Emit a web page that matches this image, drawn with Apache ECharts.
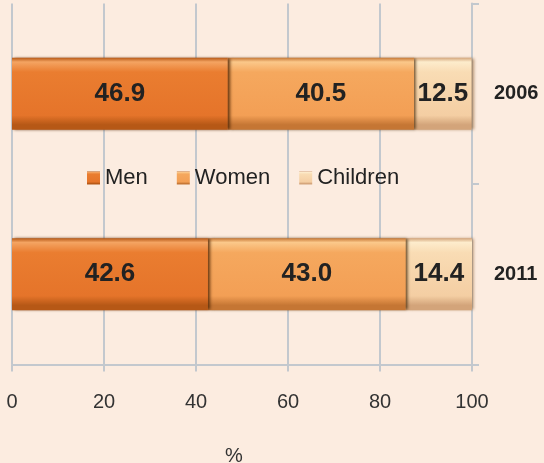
<!DOCTYPE html>
<html>
<head>
<meta charset="utf-8">
<script src="https://cdn.jsdelivr.net/npm/echarts@6/dist/echarts.min.js"></script>
<style>
  html, body { margin: 0; padding: 0; background: #fcece0; }
  #chart { width: 544px; height: 463px; }
</style>
</head>
<body>
<div id="chart"></div>
<script>
// Population composition by year (%)
const years = ['2006', '2011'];
const men = [46.9, 42.6];
const women = [40.5, 43.0];
const children = [12.5, 14.4];
const seriesNames = ['Men', 'Women', 'Children'];
const xTicks = { min: 0, max: 100, step: 20 };
const axisUnit = '%';

const FONT = '"Liberation Sans", Arial, sans-serif';
const GRID_COLOR = '#c3c8ce';

// Vertical bevel-like gradient for each segment
function bevel(top, light, mid, bottom) {
  return {
    type: 'linear', x: 0, y: 0, x2: 0, y2: 1,
    colorStops: [
      { offset: 0, color: bottom },
      { offset: 0.06, color: top },
      { offset: 0.2, color: light },
      { offset: 0.8, color: mid },
      { offset: 0.93, color: bottom },
      { offset: 1, color: bottom }
    ]
  };
}

const fills = [
  bevel('#f4a462', '#ea7d30', '#e5742a', '#b65816'),
  bevel('#fbc88a', '#f5a85e', '#f39f55', '#c57634'),
  bevel('#fdeccc', '#f9dcb4', '#f4cea3', '#d3a47a')
];
const edgeShadow = [
  'rgba(85,40,5,0.9)',
  'rgba(80,50,15,0.9)',
  'rgba(150,105,60,0.7)'
];

const values = [men, women, children];

const series = seriesNames.map((name, i) => ({
  name,
  type: 'bar',
  stack: 'total',
  barWidth: '40%',
  z: 5 - i,
  data: values[i],
  itemStyle: {
    color: fills[i],
    shadowColor: edgeShadow[i],
    shadowBlur: 3,
    shadowOffsetX: 2
  },
  label: {
    show: true,
    position: 'inside',
    formatter: p => p.value.toFixed(1),
    fontFamily: FONT,
    fontSize: 26,
    fontWeight: 'bold',
    color: '#222'
  },
  emphasis: { disabled: true }
}));

const chart = echarts.init(document.getElementById('chart'), null, { renderer: 'canvas' });
chart.setOption({
  animation: false,
  backgroundColor: '#fcece0',
  textStyle: { fontFamily: FONT },
  grid: { left: 12, right: 72, top: 3.5, bottom: 98.5, outerBoundsMode: 'none', containLabel: false },
  legend: {
    data: seriesNames,
    left: 87,
    top: 167,
    padding: 0,
    icon: 'rect',
    itemWidth: 13,
    itemHeight: 13,
    itemGap: 29,
    textStyle: { fontFamily: FONT, fontSize: 22, color: '#222' }
  },
  xAxis: {
    type: 'value',
    min: xTicks.min,
    max: xTicks.max,
    interval: xTicks.step,
    name: axisUnit,
    nameLocation: 'middle',
    nameGap: 82,
    nameTextStyle: { fontFamily: FONT, fontSize: 20, color: '#333', padding: [0, 16, 0, 0] },
    axisLine: { show: true, lineStyle: { color: GRID_COLOR, width: 2 } },
    axisTick: { show: true, length: 7, lineStyle: { color: GRID_COLOR, width: 2 } },
    axisLabel: { fontFamily: FONT, fontSize: 20, color: '#333', margin: 28 },
    splitLine: { show: true, lineStyle: { color: GRID_COLOR, width: 2 } }
  },
  yAxis: {
    type: 'category',
    data: years,
    inverse: true,
    position: 'right',
    axisLine: { show: true, onZero: false, lineStyle: { color: GRID_COLOR, width: 2 } },
    axisTick: { show: true, length: 7, lineStyle: { color: GRID_COLOR, width: 2 } },
    axisLabel: { fontFamily: FONT, fontSize: 20, fontWeight: 'bold', color: '#222', margin: 22 },
    splitLine: { show: false }
  },
  series
});
</script>
</body>
</html>
